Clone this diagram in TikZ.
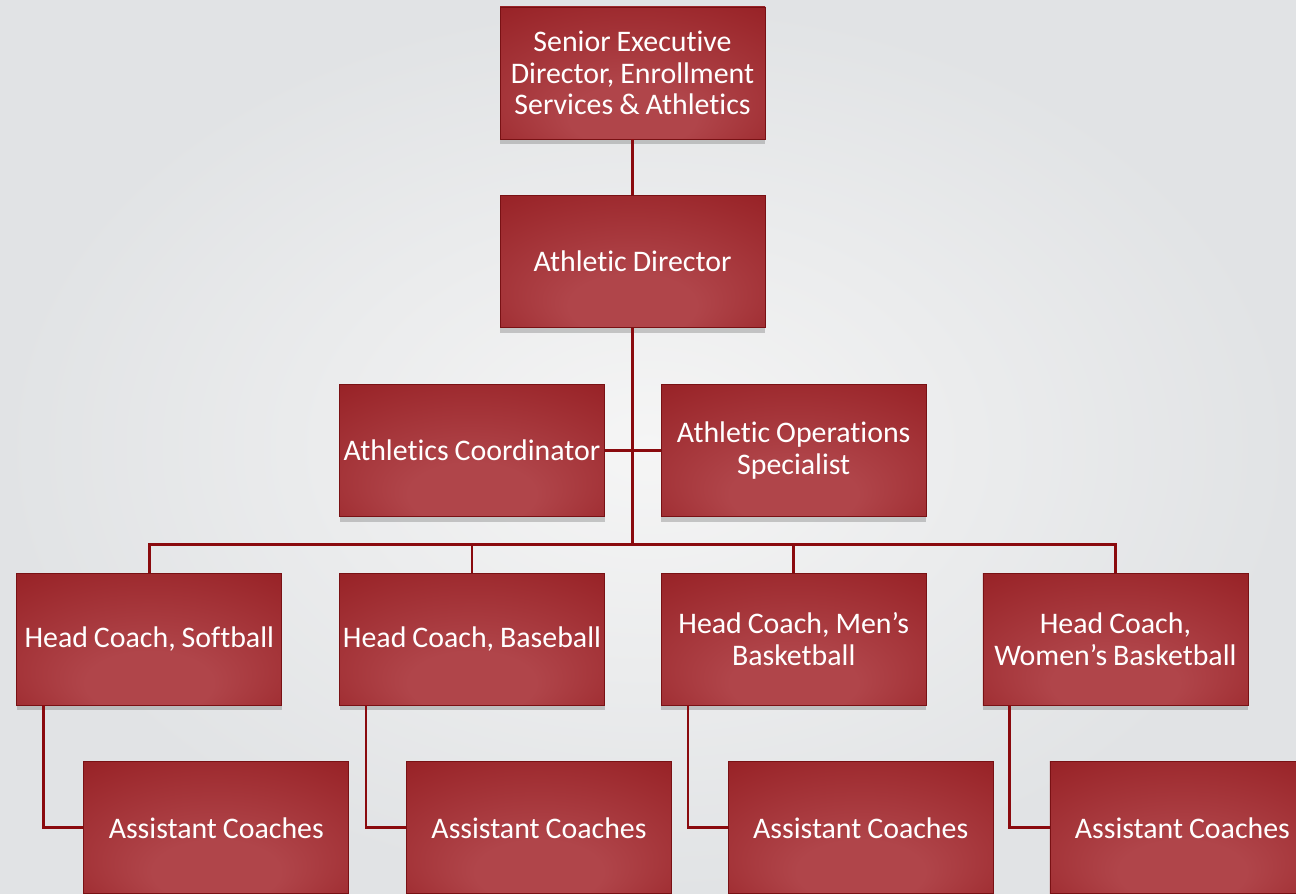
\documentclass[tikz,border=0pt]{standalone}
\usepackage{fontspec}
\setmainfont{Carlito}[Ligatures=NoCommon]
\usetikzlibrary{positioning}
\usetikzlibrary{shadows}
\usetikzlibrary{calc}
\definecolor{boxin}{HTML}{B0454A}
\definecolor{boxout}{HTML}{8E1418}
\definecolor{linkred}{HTML}{8A0A0E}
\definecolor{bgin}{HTML}{F5F5F5}
\definecolor{bgout}{HTML}{E1E3E5}
\pgfdeclareradialshading{boxshade}{\pgfpoint{0bp}{-22bp}}{%
    color(0bp)=(boxin); color(12bp)=(boxin); color(50bp)=(boxout)}
\newcommand\chartfont{\fontsize{17}{18}\selectfont\spaceskip=0.2em\relax}
\tikzset{
    block/.style={
           rectangle,
           shading=boxshade,
           draw=boxout!85!black, thin,
           minimum width=5.3cm,
           minimum height=2.64cm,
           inner sep=0pt,
           align=center,
           text=white,
           font=\chartfont,
           drop shadow={shadow xshift=0pt, shadow yshift=-3pt, opacity=0.4},
           },
    link/.style={
           draw=linkred,
           line width=1.5pt,
           },
}

\begin{document}
\begin{tikzpicture}
	\shade[inner color=bgin, outer color=bgout] (0,0) rectangle (25.92,-17.88);
	\useasboundingbox (0,0) rectangle (25.92,-17.88);

	%top of the chart
	\node[block] (top) at (12.65,-1.46) {Senior Executive\\ Director, Enrollment\\ Services \& Athletics};
	\node[block, below=1.12cm of top] (ad) {Athletic Director};
	\node[block, below=1.12cm of ad, xshift=-3.21cm] (coord) {Athletics Coordinator};
	\node[block, right=1.12cm of coord] (spec) {Athletic Operations\\ Specialist};

	%head coaches
	\node[block, below=1.12cm of coord] (hc2) {Head Coach, Baseball};
	\node[block, left=1.14cm of hc2] (hc1) {Head Coach, Softball};
	\node[block, below=1.12cm of spec] (hc3) {Head Coach, Men’s\\ Basketball};
	\node[block, right=1.12cm of hc3] (hc4) {Head Coach,\\ Women’s Basketball};

	%assistants
	\node[block, below=1.12cm of hc1, xshift=1.34cm] (as1) {Assistant Coaches};
	\node[block, below=1.12cm of hc2, xshift=1.34cm] (as2) {Assistant Coaches};
	\node[block, below=1.12cm of hc3, xshift=1.34cm] (as3) {Assistant Coaches};
	\node[block, below=1.12cm of hc4, xshift=1.34cm] (as4) {Assistant Coaches};

	%EDGES
	\coordinate (bus) at ($(spec.south)!0.5!(hc3.north)$);

	\path[link]	(top) edge (ad)
				(coord) edge (spec);
	\draw[link]	(ad.south) -- (ad.south |- bus);
	\draw[link]	(hc1.north) |- (bus) -| (hc4.north);
	\draw[link]	(hc2.north) -- (hc2.north |- bus);
	\draw[link]	(hc3.north) -- (hc3.north |- bus);

	\draw[link]	([xshift=0.54cm]hc1.south west) |- (as1.west);
	\draw[link]	([xshift=0.54cm]hc2.south west) |- (as2.west);
	\draw[link]	([xshift=0.54cm]hc3.south west) |- (as3.west);
	\draw[link]	([xshift=0.54cm]hc4.south west) |- (as4.west);
\end{tikzpicture}
\end{document}
